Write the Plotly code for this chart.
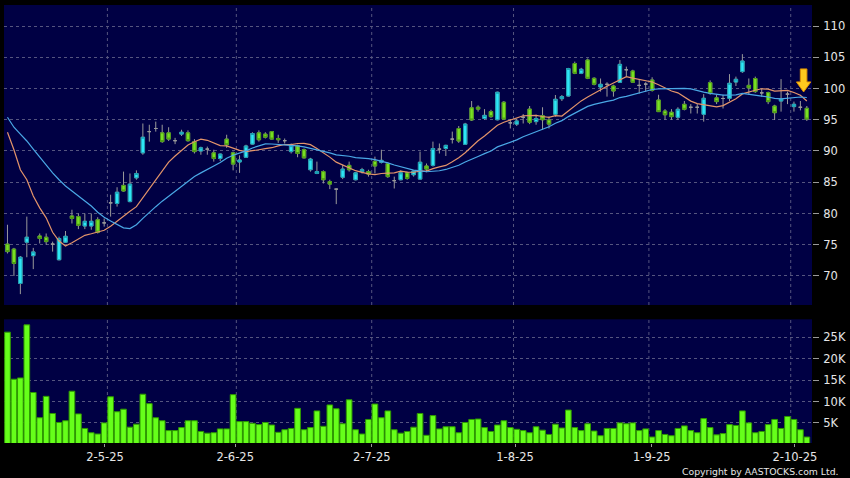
import plotly.graph_objects as go
import pandas as pd

# ---------------- data ----------------
hk_holidays = ["2025-04-18", "2025-04-21", "2025-05-01", "2025-05-05",
               "2025-07-01", "2025-10-01"]
dates = pd.bdate_range("2025-04-07", "2025-10-06", freq="C",
                       holidays=hk_holidays).tolist()

opens = [75.1, 74.3, 68.8, 75.4, 73.25, 76.4, 76.2, 75.1, 72.6, 75.4,
         79.6, 79.5, 78.0, 78.0, 79.0, 78.5, 81.7, 81.6, 84.5, 81.9,
         85.7, 89.7, 93.1, 93.6, 92.9, 92.9, 91.65, 92.7, 92.9, 91.5,
         90.0, 90.3, 89.7, 88.8, 91.9, 89.7, 88.24, 89.0, 91.1, 92.9,
         92.7, 93.1, 92.0, 91.65, 89.9, 90.85, 90.2, 87.0, 86.4, 86.7,
         85.1, 83.9, 85.8, 87.7, 85.4, 86.7, 86.7, 88.35, 88.2, 88.0,
         85.25, 85.4, 86.5, 86.2, 85.5, 87.6, 87.7, 90.3, 90.4, 91.9,
         93.6, 91.07, 96.9, 97.0, 95.2, 96.3, 95.0, 97.8, 94.5, 94.3,
         95.4, 96.7, 94.7, 95.65, 94.96, 95.87, 98.37, 98.8, 104.0, 102.43,
         104.56, 101.63, 100.24, 100.67, 100.4, 100.99, 103.0, 102.8, 100.5, 100.7,
         101.36, 98.16, 96.4, 96.2, 95.4, 97.47, 97.0, 97.0, 95.87, 100.93,
         98.5, 98.4, 98.43, 101.04, 102.7, 100.5, 101.6, 99.3, 99.33, 97.2,
         98.0, 99.1, 97.1, 97.0, 96.83]
highs = [78.2, 74.5, 73.2, 79.5, 74.5, 76.8, 76.8, 75.5, 76.3, 77.2,
         80.6, 80.0, 80.0, 80.0, 79.4, 79.2, 83.0, 84.2, 86.7, 86.4,
         86.9, 94.4, 94.2, 94.7, 94.2, 93.8, 92.1, 93.4, 93.3, 91.9,
         90.7, 90.7, 90.2, 89.6, 92.6, 89.9, 89.3, 91.0, 93.0, 93.3,
         93.0, 93.2, 92.6, 92.0, 91.2, 91.0, 90.4, 88.9, 88.3, 86.9,
         85.4, 84.0, 87.8, 88.3, 86.6, 87.3, 87.0, 89.1, 90.2, 88.2,
         85.9, 86.9, 86.7, 86.9, 89.9, 88.0, 91.5, 91.2, 91.0, 93.1,
         94.0, 94.5, 98.0, 97.3, 96.7, 96.6, 99.5, 98.0, 95.1, 95.2,
         95.9, 97.2, 95.8, 97.0, 95.5, 98.96, 98.96, 103.3, 104.3, 103.3,
         104.8, 101.8, 101.6, 101.0, 100.6, 104.56, 103.5, 103.0, 101.5, 101.0,
         101.8, 99.0, 96.7, 96.7, 97.0, 98.0, 97.5, 97.5, 99.1, 101.3,
         99.0, 99.0, 102.3, 101.9, 105.5, 101.6, 101.9, 100.0, 99.5, 97.4,
         101.5, 99.5, 97.9, 98.0, 97.2]
lows = [73.6, 70.0, 67.1, 73.0, 71.1, 75.2, 75.0, 73.9, 72.5, 75.3,
        78.4, 77.5, 77.5, 77.4, 76.8, 77.9, 79.5, 81.1, 83.5, 81.8,
        85.4, 89.4, 91.5, 93.1, 91.3, 91.6, 91.1, 92.4, 91.5, 89.6,
        89.4, 89.4, 88.3, 88.4, 90.5, 86.9, 86.5, 88.9, 91.0, 91.5,
        92.0, 91.8, 91.3, 91.2, 89.6, 89.0, 88.8, 86.7, 86.3, 84.8,
        83.9, 81.5, 85.5, 86.7, 85.3, 86.4, 85.9, 86.4, 88.0, 85.7,
        84.0, 85.3, 85.4, 85.9, 85.4, 86.6, 87.5, 89.6, 89.2, 91.2,
        91.3, 91.0, 94.8, 96.3, 95.0, 95.3, 94.9, 95.0, 93.6, 94.0,
        94.4, 94.3, 94.2, 93.4, 93.6, 95.5, 98.0, 98.7, 102.3, 102.3,
        101.5, 100.5, 99.5, 98.7, 98.7, 100.9, 102.0, 100.9, 99.2, 99.5,
        99.5, 96.3, 95.0, 95.0, 95.0, 96.5, 96.0, 96.0, 94.7, 99.0,
        97.5, 96.8, 98.0, 100.4, 102.5, 99.0, 99.3, 98.7, 97.5, 94.96,
        96.3, 97.5, 96.3, 96.5, 94.8]
closes = [73.9, 72.0, 73.0, 76.2, 73.85, 76.0, 75.5, 75.1, 76.0, 76.35,
          79.2, 78.1, 78.75, 78.75, 77.0, 78.5, 81.7, 83.4, 83.6, 84.7,
          86.4, 92.2, 93.1, 93.6, 91.5, 91.9, 91.65, 93.0, 91.65, 89.9,
          90.5, 90.3, 88.8, 89.5, 91.0, 87.9, 88.56, 90.8, 92.8, 91.8,
          92.2, 91.9, 91.8, 91.65, 90.85, 89.6, 88.9, 88.7, 86.7, 85.4,
          84.7, 83.9, 87.1, 87.0, 86.5, 87.0, 86.3, 87.6, 88.5, 85.9,
          85.25, 86.5, 85.6, 86.8, 88.2, 87.1, 90.4, 90.3, 90.9, 91.9,
          91.6, 94.3, 94.96, 96.7, 95.7, 95.5, 99.4, 95.1, 94.5, 94.8,
          95.4, 94.6, 95.2, 95.0, 94.3, 98.27, 98.7, 103.2, 102.43, 103.07,
          101.63, 100.67, 100.67, 100.67, 99.6, 103.86, 103.0, 101.0, 100.5, 100.7,
          99.7, 96.3, 95.8, 95.5, 96.67, 96.67, 97.0, 97.0, 98.43, 99.23,
          97.9, 98.4, 100.83, 101.47, 104.4, 100.1, 99.5, 99.3, 97.9, 96.13,
          98.3, 99.1, 97.47, 97.0, 95.1]
volume_k = [26.2, 15.2, 15.5, 27.9, 12.1, 6.2, 11.2, 7.2, 5.1, 5.5,
            12.4, 7.1, 3.7, 2.7, 2.4, 5.0, 11.1, 7.6, 8.2, 4.0,
            4.7, 11.7, 9.5, 6.2, 5.5, 3.2, 3.2, 3.9, 5.5, 5.5,
            3.0, 2.6, 2.7, 3.6, 3.6, 11.6, 5.3, 5.3, 4.9, 4.6,
            5.1, 4.5, 2.8, 3.4, 3.7, 8.4, 3.4, 3.9, 7.8, 4.2,
            9.2, 8.3, 4.8, 10.4, 3.4, 2.4, 5.8, 9.4, 6.2, 7.8,
            3.4, 2.6, 3.0, 4.0, 7.2, 2.1, 6.7, 3.6, 4.1, 4.1,
            2.7, 5.1, 5.8, 5.9, 3.9, 3.0, 4.5, 5.5, 3.9, 3.5,
            3.2, 2.7, 4.1, 3.3, 2.3, 4.7, 3.8, 8.0, 3.9, 3.2,
            4.8, 3.1, 2.0, 3.7, 3.7, 5.0, 4.8, 5.0, 3.2, 3.6,
            1.7, 3.2, 2.3, 2.0, 3.7, 4.3, 3.2, 2.7, 6.0, 3.9,
            2.2, 2.5, 4.6, 4.4, 7.8, 5.0, 2.7, 3.0, 4.6, 5.8,
            3.7, 6.5, 5.8, 3.4, 1.7]
ma10_head = [93.0, 90.2, 87.0, 85.4, 82.8, 80.9, 79.3, 77.0, 75.6]
ma20_head = [95.4, 93.8, 92.7, 91.6, 90.3, 89.0, 87.8, 86.5, 85.4, 84.4,
             83.6, 82.8, 82.0, 81.2, 80.2, 79.4, 78.8, 78.2, 77.7]
price_ticks = [70, 75, 80, 85, 90, 95, 100, 105, 110]
vol_ticks = [5, 10, 15, 20, 25]
vol_tick_text = ["5K", "10K", "15K", "20K", "25K"]

# ---------------- derived ----------------
n = len(dates)
idx = list(range(n))
cs = pd.Series(closes)
ma10 = cs.rolling(10).mean().tolist()
ma10[:len(ma10_head)] = ma10_head
ma20 = cs.rolling(20).mean().tolist()
ma20[:len(ma20_head)] = ma20_head

month_first = []
for i, d in enumerate(dates):
    if i > 0 and d.month != dates[i - 1].month and d.month >= 5:
        month_first.append(i)
date_labels = [f"{dates[i].day}-{dates[i].month}-{dates[i].year % 100}" for i in month_first]
label_pos = [i * 1.0097 - 1.03 for i in month_first]

body_i = [i for i in idx if opens[i] != closes[i]]

BG = "#000000"
PLOT_BG = "#000044"
GRID = "#55557f"
WICK = "#9a9a9a"
CYAN = "#2ee6f6"
CYAN_EDGE = "#1a9fb4"
GREEN = "#78e024"
GREEN_EDGE = "#4c9a14"
VOL = "#66ff1a"
VOL_EDGE = "#2f9a00"
ORANGE = "#e3946a"
BLUE = "#4aa8e6"
TXT = "#e6e6e6"
FONT = "DejaVu Sans"

fig = go.Figure()

fig.add_trace(go.Candlestick(
    x=idx, open=opens, high=highs, low=lows, close=closes,
    increasing=dict(line=dict(color=WICK, width=1), fillcolor=WICK),
    decreasing=dict(line=dict(color=WICK, width=1), fillcolor=WICK),
    whiskerwidth=0, xaxis="x", yaxis="y", hoverinfo="skip"))
fig.add_trace(go.Candlestick(
    x=body_i,
    open=[opens[i] for i in body_i],
    close=[closes[i] for i in body_i],
    high=[max(opens[i], closes[i]) for i in body_i],
    low=[min(opens[i], closes[i]) for i in body_i],
    increasing=dict(line=dict(color=CYAN_EDGE, width=1), fillcolor=CYAN),
    decreasing=dict(line=dict(color=GREEN_EDGE, width=1), fillcolor=GREEN),
    whiskerwidth=0, xaxis="x", yaxis="y", hoverinfo="skip"))
fig.add_trace(go.Scatter(x=idx, y=ma10, mode="lines",
                         line=dict(color=ORANGE, width=1.2),
                         xaxis="x", yaxis="y", hoverinfo="skip"))
fig.add_trace(go.Scatter(x=idx, y=ma20, mode="lines",
                         line=dict(color=BLUE, width=1.2),
                         xaxis="x", yaxis="y", hoverinfo="skip"))
fig.add_trace(go.Bar(x=idx, y=volume_k,
                     marker=dict(color=VOL, line=dict(color=VOL_EDGE, width=1)),
                     xaxis="x2", yaxis="y2", hoverinfo="skip"))

xr = [-0.54, n - 0.2]
shapes = []
for i in month_first:
    for yref in ("y domain", "y2 domain"):
        shapes.append(dict(type="line", xref="x" if yref == "y domain" else "x2",
                           yref=yref, x0=i - 0.5, x1=i - 0.5, y0=0, y1=1,
                           line=dict(color=GRID, width=1, dash="3px,3px"),
                           layer="below"))
# down-arrow signal marker next to the last bar
shapes.append(dict(type="path", xref="x", yref="y",
                   xsizemode="pixel", ysizemode="pixel",
                   xanchor=n - 1.5, yanchor=ma10[-1] + 3.3,
                   path="M -3.3 11.5 L 3.3 11.5 L 3.3 -1.5 L 7.2 -1.5 L 0 -11.5 "
                        "L -7.2 -1.5 L -3.3 -1.5 Z",
                   fillcolor="#ffc81e", line=dict(color="#e09000", width=1),
                   layer="above"))

fig.update_layout(
    width=850, height=478,
    paper_bgcolor=BG, plot_bgcolor=PLOT_BG,
    margin=dict(l=4, r=32, t=5, b=35),
    showlegend=False, hovermode=False,
    boxgap=0.25, bargap=0.12,
    shapes=shapes,
    xaxis=dict(domain=[0, 1], range=xr, showticklabels=False, showgrid=False,
               zeroline=False, rangeslider=dict(visible=False), anchor="y",
               fixedrange=True),
    yaxis=dict(domain=[0.3151, 1], range=[65.36, 113.36], side="right",
               tickvals=price_ticks, ticks="outside", ticklen=6,
               tickcolor="#9a9a9a", showgrid=True, gridcolor=GRID,
               griddash="3px,3px", zeroline=False, anchor="x",
               ticklabelstandoff=2,
               tickfont=dict(family=FONT, size=11.5, color=TXT)),
    xaxis2=dict(domain=[0, 1], range=xr, tickvals=label_pos, ticktext=date_labels,
                ticks="outside", ticklen=3, tickcolor="#9a9a9a", showgrid=False,
                zeroline=False, anchor="y2",
                tickfont=dict(family=FONT, size=11.5, color=TXT)),
    yaxis2=dict(domain=[0, 0.2824], range=[0.3, 29.2], side="right",
                tickvals=vol_ticks, ticktext=vol_tick_text, ticks="outside",
                ticklen=6, tickcolor="#9a9a9a", showgrid=True, gridcolor=GRID,
                griddash="3px,3px", zeroline=False, anchor="x2",
                ticklabelstandoff=2,
                tickfont=dict(family=FONT, size=11.5, color=TXT)),
    annotations=[dict(text="Copyright by AASTOCKS.com Ltd.", xref="paper",
                      yref="paper", x=(685 - 4) / 814, y=0, xanchor="left",
                      yanchor="top", yshift=-21, showarrow=False,
                      font=dict(family=FONT, size=9.3, color=TXT))],
)

fig.write_html("out.html", config={"displayModeBar": False},
               post_script="document.body.style.margin='0';"
                           "document.body.style.padding='0';"
                           "document.body.style.overflow='hidden';"
                           "document.body.style.background='#000';")
